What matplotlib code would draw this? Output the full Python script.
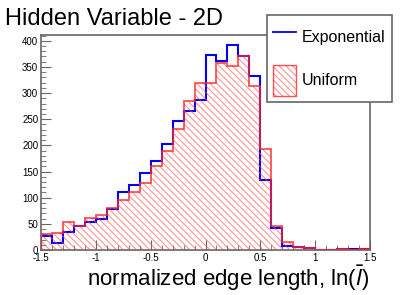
import numpy as np
import matplotlib
matplotlib.use("Agg")
import matplotlib.pyplot as plt
import matplotlib.patches as mpatches
from matplotlib.lines import Line2D
from matplotlib.legend_handler import HandlerTuple
from matplotlib.ticker import MultipleLocator

plt.rcParams['font.family'] = ['Liberation Sans', 'DejaVu Sans']
plt.rcParams['hatch.linewidth'] = 0.8

# histogram contents, 30 bins of width 0.1 between -1.5 and 1.5
bin_edges = np.linspace(-1.5, 1.5, 31)
exponential = [27, 13, 34, 46, 53, 59, 78, 110, 124, 147,
               170, 203, 247, 265, 286, 373, 362, 392, 370, 333,
               134, 42, 8, 5, 3, 0, 0, 1, 1, 1]
uniform = [30, 32, 54, 46, 62, 66, 80, 95, 110, 128,
           161, 190, 231, 285, 319, 319, 357, 352, 371, 313,
           194, 45, 15, 6, 3, 0, 0, 1, 0, 1]

red_line = (1.0, 0.15, 0.15, 0.8)
red_hatch = (1.0, 0.3, 0.3, 0.6)
frame_col = '#666666'
hatch = '\\' * 5

fig = plt.figure(figsize=(4.11, 2.95), dpi=100)
ax = fig.add_axes([41/411, 45/295, 329/411, 215/295])

ax.stairs(exponential, bin_edges, color='blue', linewidth=1.5, zorder=2)
ax.stairs(uniform, bin_edges, fill=True, facecolor='none', edgecolor=red_hatch,
          linewidth=0, hatch=hatch, zorder=3)
ax.stairs(uniform, bin_edges, color=red_line, linewidth=1.3, zorder=4)

ax.set_xlim(-1.5, 1.5)
ax.set_ylim(0, 411)
ax.xaxis.set_major_locator(MultipleLocator(0.5))
ax.xaxis.set_minor_locator(MultipleLocator(0.1))
ax.yaxis.set_major_locator(MultipleLocator(50))
ax.yaxis.set_minor_locator(MultipleLocator(10))
ax.xaxis.set_major_formatter(lambda v, p: f"{v:g}")
ax.tick_params(which='both', direction='in', top=False, right=False,
               labelsize=7, color=frame_col, pad=2)
ax.tick_params(axis='x', pad=2.5)
ax.tick_params(which='major', length=7)
ax.tick_params(which='minor', length=3.5)
for s in ax.spines.values():
    s.set_color(frame_col)
    s.set_linewidth(1.2)

ax.set_xlabel(r'normalized edge length, ln($\bar{l}$)', fontsize=16,
              loc='right', labelpad=0)
fig.text(5/411, 1 - 19/295, 'Hidden Variable - 2D', fontsize=17,
         va='center', ha='left')

line_h = Line2D([], [], color='blue', linewidth=1.3)
box_h = (mpatches.Patch(facecolor='white', edgecolor=red_hatch, linewidth=0,
                        hatch=hatch),
         mpatches.Patch(facecolor='none', edgecolor=red_line, linewidth=1.0))
leg = ax.legend([line_h, box_h], ['Exponential', 'Uniform'],
                handler_map={tuple: HandlerTuple(ndivide=1, pad=0)},
                loc='upper left', bbox_to_anchor=(267/411, 1 - 15/295),
                bbox_transform=fig.transFigure, borderaxespad=0,
                fontsize=11.5, handlelength=1.4, handleheight=2.6,
                handletextpad=0.4, labelspacing=0.8, borderpad=0.4,
                fancybox=False, framealpha=1, edgecolor=frame_col)
leg.get_frame().set_linewidth(1.2)
leg.set_zorder(10)

plt.savefig('out.png', dpi=100)
